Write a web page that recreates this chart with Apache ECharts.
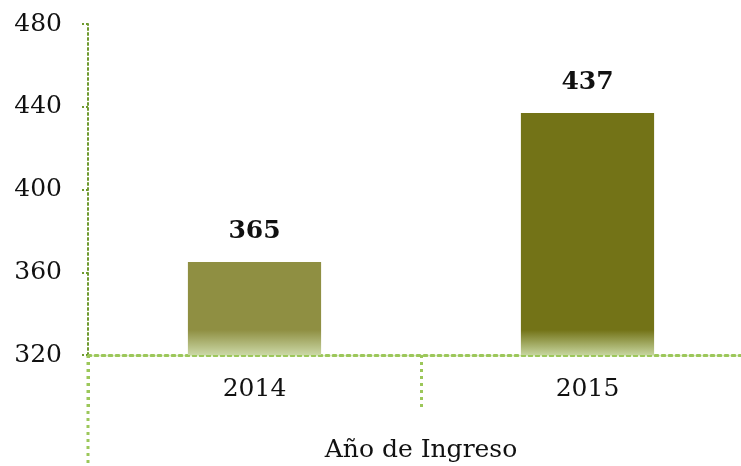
<!DOCTYPE html>
<html lang="es">
<head>
<meta charset="UTF-8">
<title>Año de Ingreso</title>
<style>
  body { margin: 0; overflow: hidden; background: #fff; }
  #chart { width: 741px; height: 466px; }
</style>
</head>
<body>
<div id="chart"></div>
<script src="https://cdn.jsdelivr.net/npm/echarts@6/dist/echarts.min.js"></script>
<script>
var years = ['2014', '2015'];
var values = [365, 437];
var barColors = [['#8f8f42', '#cbd8a6'], ['#737317', '#c6d59e']];
var yTicks = { min: 320, max: 480, interval: 40 };

var chart = echarts.init(document.getElementById('chart'));
var font = 'DejaVu Serif';

// fade only the last ~22px above the baseline (baseline sits at y=355)
function barFill(c) {
  return new echarts.graphic.LinearGradient(0, 0, 0, 355, [
    { offset: 0, color: c[0] },
    { offset: 330 / 355, color: c[0] },
    { offset: 1, color: c[1] }
  ], true);
}

var option = {
  animation: false,
  grid: { left: 88, right: -13, top: 24, bottom: 111, outerBoundsMode: 'none', containLabel: false },
  xAxis: {
    type: 'category',
    data: years,
    axisLine: { lineStyle: { color: '#9cc75a', width: 3, type: [3, 4] } },
    axisTick: { show: true, length: 55, lineStyle: { color: '#9cc75a', width: 3, type: [3, 4] } },
    axisLabel: { fontFamily: font, fontSize: 25, color: '#111', margin: 22 },
    name: 'Año de Ingreso',
    nameLocation: 'middle',
    nameGap: 83,
    nameTextStyle: { fontFamily: font, fontSize: 25, color: '#111' }
  },
  yAxis: {
    type: 'value',
    min: yTicks.min, max: yTicks.max, interval: yTicks.interval,
    axisLine: { show: true, lineStyle: { color: '#6f9a2f', width: 2, type: [2, 3] } },
    axisTick: { show: true, length: 6, lineStyle: { color: '#6f9a2f', width: 2, type: [2, 2] } },
    splitLine: { show: false },
    axisLabel: { fontFamily: font, fontSize: 25, color: '#111', margin: 26 }
  },
  series: [{
    type: 'bar',
    barWidth: '40%',
    data: values.map(function (v, i) {
      return { value: v, itemStyle: { color: barFill(barColors[i]) } };
    }),
    label: {
      show: true, position: 'top', distance: 18,
      fontFamily: font, fontSize: 25, fontWeight: 'bold', color: '#111'
    }
  }],
  graphic: [{
    type: 'line',
    shape: { x1: 88, y1: 355, x2: 88, y2: 466 },
    style: { stroke: '#9cc75a', lineWidth: 3, lineDash: [3, 4] }
  }]
};

chart.setOption(option);
</script>
</body>
</html>
